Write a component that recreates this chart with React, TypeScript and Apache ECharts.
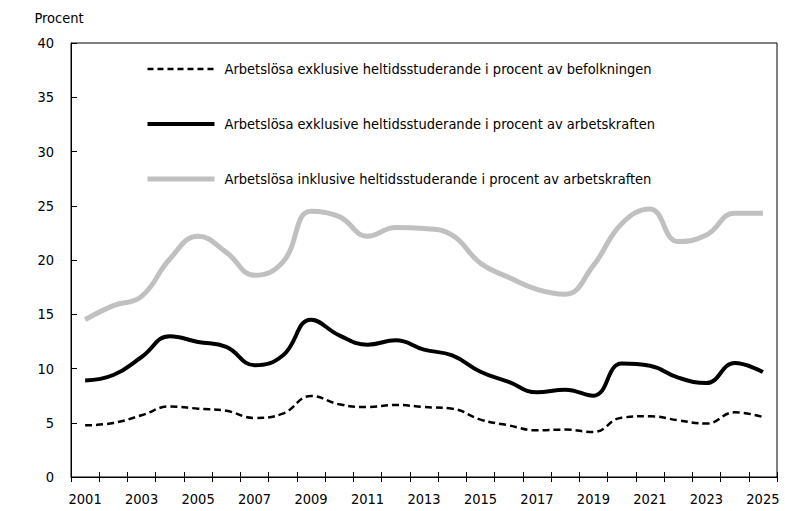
import React, { useEffect, useRef } from "react";
import * as echarts from "echarts";

const years: string[] = [
  "2001", "2002", "2003", "2004", "2005", "2006", "2007", "2008", "2009", "2010",
  "2011", "2012", "2013", "2014", "2015", "2016", "2017", "2018", "2019", "2020",
  "2021", "2022", "2023", "2024", "2025",
];

const befolkningen: number[] = [
  4.76, 4.98, 5.69, 6.5, 6.3, 6.1, 5.44, 5.84, 7.47, 6.7,
  6.45, 6.64, 6.45, 6.3, 5.29, 4.76, 4.3, 4.37, 4.15, 5.47,
  5.6, 5.23, 4.92, 5.96, 5.53,
];

const exklusive: number[] = [
  8.9, 9.4, 11.06, 12.97, 12.45, 12.0, 10.3, 11.2, 14.5, 13.06,
  12.2, 12.6, 11.74, 11.2, 9.7, 8.76, 7.8, 8.05, 7.5, 10.45,
  10.25, 9.16, 8.66, 10.5, 9.68,
];

const inklusive: number[] = [
  14.5, 15.8, 16.65, 20.1, 22.2, 20.7, 18.6, 19.8, 24.5, 24.0,
  22.2, 23.0, 22.9, 22.3, 19.7, 18.4, 17.3, 16.85, 19.5, 23.35,
  24.7, 21.7, 22.3, 24.3, 24.3,
];

const seriesNames: string[] = [
  "Arbetslösa exklusive heltidsstuderande i procent av befolkningen",
  "Arbetslösa exklusive heltidsstuderande i procent av arbetskraften",
  "Arbetslösa inklusive heltidsstuderande i procent av arbetskraften",
];

const FONT = "'DejaVu Sans Condensed', 'Liberation Sans Narrow', sans-serif";
const FS = 14.5;

export default function App() {
  const ref = useRef<HTMLDivElement>(null);

  useEffect(() => {
    if (!ref.current) return;
    const chart = echarts.init(ref.current, undefined, { renderer: "svg" });
    const grey = "#c0c0c0";
    const hideSym = { opacity: 0 };
    chart.setOption({
      animation: false,
      backgroundColor: "#fff",
      textStyle: { fontFamily: FONT, color: "#000" },
      grid: {
        left: 71,
        right: 8,
        top: 43,
        bottom: 34,
        show: true,
        borderColor: "#000",
        borderWidth: 1,
        backgroundColor: "transparent",
      },
      legend: {
        orient: "vertical",
        left: 145,
        top: 61,
        padding: 0,
        itemWidth: 67,
        itemHeight: 20,
        itemGap: 39,
        textStyle: { fontFamily: FONT, fontSize: FS, color: "#000", padding: [0, 0, 0, 5] },
        data: [
          { name: seriesNames[0], itemStyle: hideSym, lineStyle: { width: 2.5, type: [6, 4], color: "#000" } },
          { name: seriesNames[1], itemStyle: hideSym, lineStyle: { width: 4, color: "#000" } },
          { name: seriesNames[2], itemStyle: hideSym, lineStyle: { width: 5, color: grey } },
        ],
      },
      xAxis: [
        {
          type: "category",
          data: years,
          boundaryGap: true,
          axisLine: { show: true, lineStyle: { color: "#000", width: 1 } },
          axisTick: { show: true, interval: 0, length: 5, inside: false, lineStyle: { color: "#000" } },
          axisLabel: { interval: 1, fontFamily: FONT, fontSize: FS, color: "#000", margin: 14 },
          splitLine: { show: false },
        },
        {
          type: "category",
          data: years,
          position: "bottom",
          boundaryGap: true,
          axisLine: { show: false },
          axisTick: { show: true, interval: 0, length: 5, inside: true, lineStyle: { color: "#000" } },
          axisLabel: { show: false },
          splitLine: { show: false },
        },
      ],
      yAxis: {
        type: "value",
        min: 0,
        max: 40,
        interval: 5,
        name: "Procent",
        nameLocation: "end",
        nameGap: 18,
        nameTextStyle: { fontFamily: FONT, fontSize: FS, color: "#000", align: "center", padding: [0, 24, 0, 0] },
        axisLine: { show: true, lineStyle: { color: "#000", width: 1 } },
        axisTick: { show: true, inside: true, length: 6, lineStyle: { color: "#000" } },
        axisLabel: { fontFamily: FONT, fontSize: FS, color: "#000", margin: 17 },
        splitLine: { show: false },
      },
      series: [
        {
          name: seriesNames[0],
          type: "line",
          data: befolkningen,
          smooth: 0.45,
          symbol: "none",
          lineStyle: { color: "#000", width: 2.5, type: [7, 4] },
          itemStyle: { color: "#000" },
          z: 4,
        },
        {
          name: seriesNames[1],
          type: "line",
          data: exklusive,
          smooth: 0.45,
          symbol: "none",
          lineStyle: { color: "#000", width: 4 },
          itemStyle: { color: "#000" },
          z: 3,
        },
        {
          name: seriesNames[2],
          type: "line",
          data: inklusive,
          smooth: 0.45,
          symbol: "none",
          lineStyle: { color: grey, width: 5 },
          itemStyle: { color: grey },
          z: 2,
        },
      ],
    });
    return () => chart.dispose();
  }, []);

  return <div ref={ref} style={{ width: 785, height: 511, position: "absolute", left: 0, top: 0 }} />;
}
